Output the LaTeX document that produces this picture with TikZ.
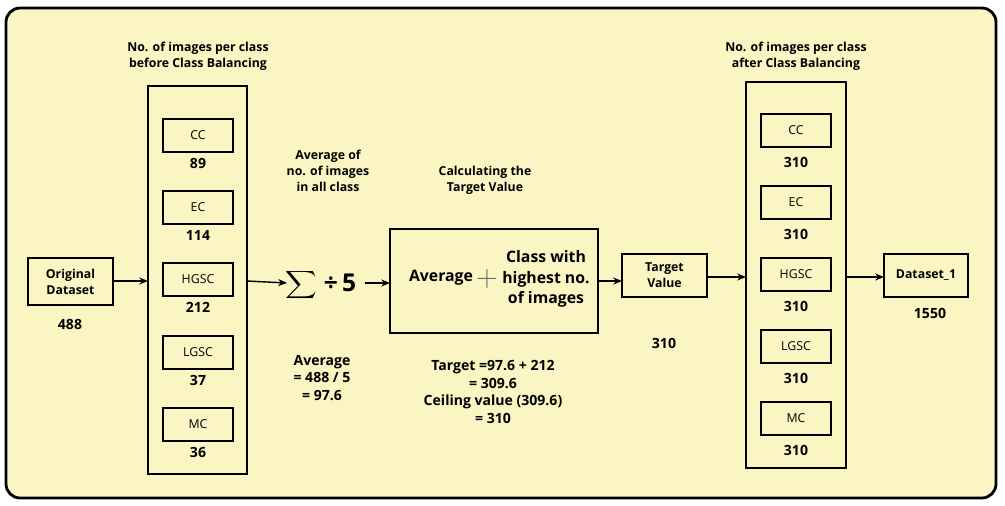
\documentclass[tikz,border=0pt]{standalone}
\usepackage{fontspec}
\setmainfont{Open Sans}
\usetikzlibrary{arrows.meta}
\definecolor{bg}{HTML}{FAF5C3}
\begin{document}
\begin{tikzpicture}[x=0.02cm,y=-0.02cm,
  box/.style={draw,line width=0.9pt},
  lbl/.style={font=\fontsize{7}{8.5}\selectfont},
  num/.style={font=\bfseries\fontsize{8}{9.5}\selectfont},
  ttl/.style={font=\bfseries\fontsize{7}{9}\selectfont,align=center},
  arr/.style={-{Stealth[length=5pt,width=4pt]},line width=0.8pt}]
\useasboundingbox (0,0) rectangle (1005,505);
\draw[fill=bg,line width=1.6pt,rounded corners=8pt] (6,8) rectangle (996,498);
% original
\draw[box] (28,258) rectangle (113,305);
\coordinate (origE) at (113,281);
\node[ttl] (origT) at (70.5,281.5) {Original\\Dataset};
\node[num] (origN) at (70,324) {488};
% left column
\draw[box] (148,86) rectangle (247,474);
\coordinate (lcW) at (148,281); \coordinate (lcE) at (247,281);
\node[ttl] (lt) at (198,56) {No. of images per class\\before Class Balancing};
\foreach \n/\t/\v/\y in {a/CC/89/119,b/EC/114/191,c/HGSC/212/263,d/LGSC/37/336,e/MC/36/408}{
  \draw[box] (163,\y) rectangle (233,\y+33);
  \node[lbl] (l\n) at (198,\y+16.5) {\t};
  \node[num] (ln\n) at (198,\y+44) {\v};
}
\draw[arr] (origE) -- (lcW);
% sum
\node[inner sep=0] (sum) at (301,285) {\scalebox{1.25}[1.1]{$\displaystyle\sum$}};
\node[font=\bfseries\fontsize{14}{14}\selectfont] (div) at (340,283) {÷\,5};
\coordinate (sumW) at (287,283);
\draw[arr] (lcE) -- (sumW);
\coordinate (divE) at (365,283);
\node[ttl] (avgT) at (328,171) {Average of\\no. of images\\in all class};
\node[ttl,font=\bfseries\fontsize{8}{10}\selectfont] (avgC) at (322,378) {Average\\= 488 / 5\\= 97.6};
% middle box
\draw[box] (390,229) rectangle (598,333);
\coordinate (mW) at (390,283); \coordinate (mE) at (598,281);
\draw[arr] (divE) -- (mW);
\node[font=\bfseries\fontsize{9}{11}\selectfont] (mA) at (441,278) {Average};
\node[font=\fontsize{16}{16}\selectfont\color{black!60}] (mP) at (487,279) {$+$};
\node[font=\bfseries\fontsize{9}{11.5}\selectfont,align=center] (mC) at (546,279) {Class with\\highest no.\\of images};
\node[ttl] (calcT) at (485,180) {Calculating the\\Target Value};
\node[ttl,font=\bfseries\fontsize{8}{10}\selectfont] (calcC) at (493,392) {Target =97.6 + 212\\= 309.6\\Ceiling value (309.6)\\= 310};
% target
\draw[box] (622,254) rectangle (707,297);
\node[ttl] (tv) at (664.5,275.5) {Target\\Value};
\draw[arr] (mE) -- (622,281);
\node[num] (tvN) at (664,343) {310};
% right column
\draw[box] (746,82) rectangle (846,468);
\draw[arr] (707,277) -- (746,277);
\node[ttl] (rt) at (796,56) {No. of images per class\\after Class Balancing};
\foreach \n/\t/\y in {a/CC/114,b/EC/186,c/HGSC/258,d/LGSC/330,e/MC/402}{
  \draw[box] (761,\y) rectangle (831,\y+33);
  \node[lbl] (r\n) at (796,\y+16.5) {\t};
  \node[num] (rn\n) at (796,\y+48) {310};
}
% dataset
\draw[box] (884,254) rectangle (968,297);
\node[ttl] (ds) at (926,275.5) {Dataset\_1};
\draw[arr] (846,277) -- (884,277);
\node[num] (dsN) at (930,313) {1550};
\end{tikzpicture}
\end{document}
